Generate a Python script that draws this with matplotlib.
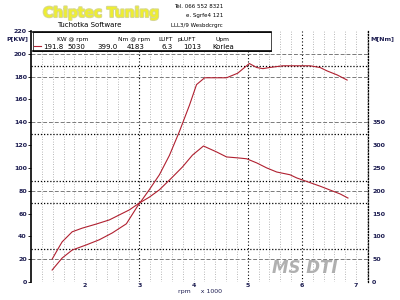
import numpy as np
import matplotlib
matplotlib.use("Agg")
import matplotlib.pyplot as plt
import matplotlib.patheffects as pe
from matplotlib.patches import Rectangle

# power curve (kW, left axis) and torque curve (Nm, right axis)
rpm_p = [1390, 1575, 1760, 2020, 2260, 2500, 2760, 2960, 3185, 3370, 3555, 3740, 3925, 4055,
         4205, 4425, 4610, 4815, 5030, 5165, 5280, 5405, 5650, 6150, 6335, 6465, 6650, 6835]
power = [10.5, 21, 28, 32.5, 37, 43, 51, 66, 81, 94, 111, 132, 155, 173,
         179, 179, 179, 183, 191.5, 188, 187, 188, 189.5, 189.5, 188, 185, 181.5, 177]
rpm_t = [1390, 1520, 1575, 1760, 1945, 2205, 2445, 2630, 2815, 3000, 3185, 3370, 3595, 3795,
         3980, 4183, 4425, 4610, 4815, 4980, 5165, 5350, 5535, 5780, 5905, 6335, 6705, 6850]
torque = [50, 77, 88, 110, 118, 127, 136, 147, 158, 173, 186, 202, 228, 252,
          278, 298, 285, 274, 272, 270, 261, 250, 241, 235, 228, 210, 193, 184]

p_ticks = list(range(0, 221, 20))
m_ticks = list(range(0, 351, 50))
x_ticks = [2000, 3000, 4000, 5000, 6000, 7000]
x_labels = ["2", "3", "4", "5", "6", "7"]
dash_levels = [20, 80, 140, 180, 200]          # grey dashed grid (kW)
dot_levels = [29, 69, 88.5, 130, 189.5]         # black dotted grid (kW)
black_v = [3000, 5000, 6000]

head_txt = ["KW @ rpm", "Nm @ rpm", "LUFT", "pLUFT", "Upm"]
head_x = [57, 118, 158, 178, 215]
val_txt = ["191.8", "5030", "399.0", "4183", "6.3", "1013", "Korlea"]
val_x = [43, 67, 97, 127, 162, 183, 212]
addr = ["Tel. 066 552 8321", "e. Sgrfe4 121", "LLL3/9 Wesbdcrgrc"]

NAVY = "#1c1c50"
RED = "#b02030"

fig = plt.figure(figsize=(4, 3), dpi=100)
fig.patch.set_facecolor("white")
ax = fig.add_axes([0.0775, 0.06, 0.8425, 0.8367])
ax.set_xlim(1000, 7220)
ax.set_ylim(0, 220)

for v in np.arange(1200, 7201, 200):
    if v not in black_v:
        ax.axvline(v, color="#a0a0a0", lw=0.6, ls=(0, (1, 2)), zorder=1)
for v in black_v:
    ax.axvline(v, color="black", lw=0.8, ls=(0, (1, 2)), zorder=1)
for v in dash_levels:
    ax.axhline(v, color="#7a7a7a", lw=0.7, ls=(0, (4, 2)), zorder=1)
for v in dot_levels:
    ax.axhline(v, color="black", lw=0.9, ls=(0, (1, 1.5)), zorder=1)

ax.plot(rpm_p, power, color=RED, lw=0.8, zorder=3)
ax2 = ax.twinx()
ax2.set_ylim(0, 550)
ax2.plot(rpm_t, torque, color=RED, lw=0.8, zorder=3)

for s in ["top", "bottom"]:
    ax.spines[s].set_visible(False)
    ax2.spines[s].set_visible(False)
ax.spines["right"].set_visible(False)
ax2.spines["left"].set_visible(False)
ax.spines["left"].set_linewidth(1.2)
ax2.spines["right"].set_linestyle((0, (1, 1.5)))
ax2.spines["right"].set_linewidth(0.9)

ax.set_yticks(p_ticks)
ax.set_yticklabels([str(t) for t in p_ticks], fontsize=4.5, color=NAVY, fontweight="bold")
ax.tick_params(axis="y", length=2, width=0.6, pad=1)
ax2.set_yticks(m_ticks)
ax2.set_yticklabels([str(t) for t in m_ticks], fontsize=4.5, color=NAVY, fontweight="bold")
ax2.tick_params(axis="y", length=0, pad=3)
ax.set_xticks(x_ticks)
ax.set_xticklabels(x_labels, fontsize=4.5, color=NAVY, fontweight="bold")
ax.tick_params(axis="x", length=0, pad=1)

fig.text(0.015, 0.865, "P[KW]", fontsize=4.5, color=NAVY, fontweight="bold")
fig.text(0.925, 0.865, "M[Nm]", fontsize=4.5, color=NAVY, fontweight="bold")
fig.text(0.5, 0.022, "rpm     x 1000", fontsize=4.5, color=NAVY, ha="center")

# header block
fig.text(43 / 400, 1 - 17 / 300, "Chiptec Tuning", fontsize=10, color="#eeee30", fontweight="bold",
         path_effects=[pe.withStroke(linewidth=1.5, foreground="#d8d890")])
fig.text(57 / 400, 1 - 27 / 300, "Tuchotka Software", fontsize=5, color="black")
for i, t in enumerate(addr):
    fig.text(223 / 400, 1 - (8 + 9.5 * i) / 300, t, fontsize=4, color="black", ha="right")

# legend box
fig.patches.append(Rectangle((33 / 400, 1 - 51 / 300), 238 / 400, 19 / 300, transform=fig.transFigure,
                             facecolor="white", edgecolor="black", lw=0.5, zorder=5))
fig.lines.append(plt.Line2D([33 / 400, 271 / 400], [1 - 32 / 300] * 2, transform=fig.transFigure,
                            color="black", lw=1.2, zorder=6))
fig.lines.append(plt.Line2D([33 / 400, 271 / 400], [1 - 51 / 300] * 2, transform=fig.transFigure,
                            color="black", lw=1.2, zorder=6))
fig.lines.append(plt.Line2D([34 / 400, 41 / 400], [1 - 46 / 300] * 2, transform=fig.transFigure,
                            color=RED, lw=0.8, zorder=6))
for t, x in zip(head_txt, head_x):
    fig.text(x / 400, 1 - 41 / 300, t, fontsize=4.3, color="black", zorder=7)
for t, x in zip(val_txt, val_x):
    fig.text(x / 400, 1 - 49 / 300, t, fontsize=5, color="black", zorder=7)

# DTI watermark
fig.text(0.68, 0.09, "MS DTI", fontsize=12, color="#a8a8a8", fontweight="bold", style="italic", alpha=0.9)

fig.savefig("out.png", dpi=100)
